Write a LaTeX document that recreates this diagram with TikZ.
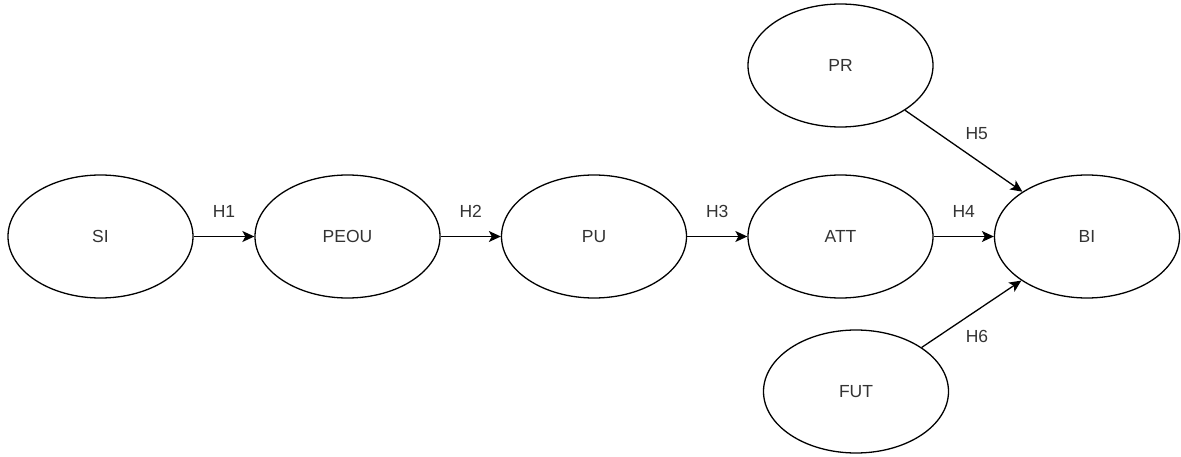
\documentclass[tikz,border=0pt]{standalone}
\usepackage{fontspec}
\setmainfont{Liberation Sans}
\usetikzlibrary{shapes.geometric,arrows.meta}
\definecolor{txt}{HTML}{333333}
\begin{document}
\begin{tikzpicture}[x=1pt,y=-1pt,
  var/.style={ellipse,draw=black,line width=1.3pt,minimum width=185pt,minimum height=123pt,inner sep=0pt,text=txt,font=\fontsize{17.5}{20}\selectfont},
  link/.style={draw=black,line width=1.3pt,-{Stealth[length=12pt,width=11pt,inset=3pt]}},
  lab/.style={text=txt,font=\fontsize{17.5}{20}\selectfont,inner sep=0pt}]
\useasboundingbox (0,0) rectangle (1181,457);
\node[var] (SI) at (100.5,236.5) {SI};
\node[var] (PEOU) at (347.5,236.5) {PEOU};
\node[var] (PU) at (594,236.5) {PU};
\node[var] (ATT) at (840.5,236.5) {ATT};
\node[var] (BI) at (1087,236.5) {BI};
\node[var] (PR) at (840.5,65.5) {PR};
\node[var] (FUT) at (856,391.5) {FUT};
\draw[link] (SI) -- node[lab,yshift=25pt]{H1} (PEOU);
\draw[link] (PEOU) -- node[lab,yshift=25pt]{H2} (PU);
\draw[link] (PU) -- node[lab,yshift=25pt]{H3} (ATT);
\draw[link] (ATT) -- node[lab,yshift=25pt]{H4} (BI);
\draw[link] (PR) -- node[lab,xshift=13pt,yshift=17.5pt]{H5} (BI);
\draw[link] (FUT) -- node[lab,xshift=5.5pt,yshift=-22.5pt]{H6} (BI);
\end{tikzpicture}
\end{document}
